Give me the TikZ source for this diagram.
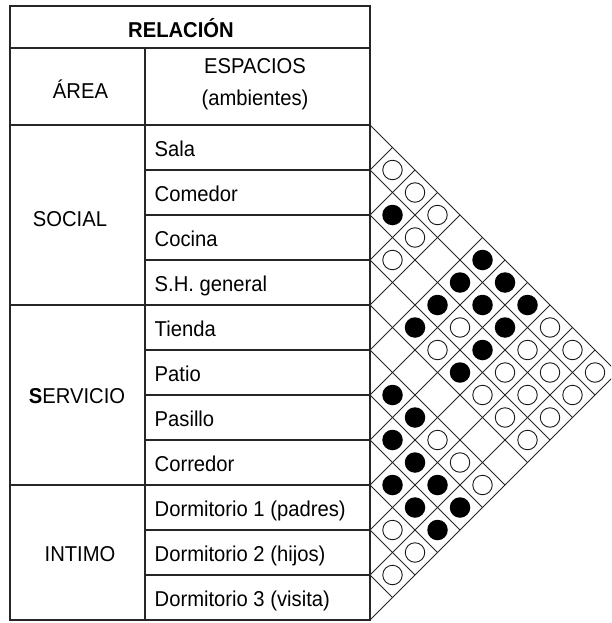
\documentclass[tikz,border=0pt]{standalone}
\usepackage{fontspec}
\setmainfont{Liberation Sans}[FakeStretch=0.94]
\begin{document}
\begin{tikzpicture}[x=1pt,y=-1pt,
  tbl/.style={line width=1.2pt, draw=black!85},
  gridline/.style={line width=0.8pt, draw=black!85},
  lbl/.style={inner sep=0pt, anchor=base west},
  ctr/.style={inner sep=0pt, anchor=base},
  opendot/.style={circle, draw=black!90, line width=0.9pt, minimum size=19.5pt, inner sep=0pt},
  fulldot/.style={circle, fill=black, minimum size=20.5pt, inner sep=0pt},
  every node/.append style={font=\fontsize{21.5}{24}\selectfont}]
\useasboundingbox (0,0) rectangle (611,623);
\clip (0,0) rectangle (611,623);
\fill[white] (0,0) rectangle (611,623);

% diamond grid
\foreach \k in {0,...,11} {
  \pgfmathsetmacro\yk{125+45*\k}
  \draw[gridline] (370,\yk) -- ++({(620-\yk)/2},{(620-\yk)/2});
  \draw[gridline] (370,\yk) -- ++({(\yk-125)/2},{-(\yk-125)/2});
}

% table
\draw[tbl] (10,6) rectangle (370,620);
\draw[tbl] (10,48) -- (370,48);
\draw[tbl] (10,125) -- (370,125);
\draw[tbl] (145,48) -- (145,620);
\foreach \y in {170,215,260,350,395,440,530,575} \draw[tbl] (145,\y) -- (370,\y);
\foreach \y in {305,485} \draw[tbl] (10,\y) -- (370,\y);

% header texts
\node[ctr] (rel) at (181,38) {\textbf{RELACIÓN}};
\node[ctr] (area) at (80.5,99) {ÁREA};
\node[ctr] (esp) at (255,73.5) {ESPACIOS};
\node[ctr] (amb) at (255,106) {(ambientes)};
\node[ctr] (social) at (70,226.5) {SOCIAL};
\node[ctr] (servicio) at (77,403) {\textbf{S}ERVICIO};
\node[ctr] (intimo) at (80,561.5) {INTIMO};

% space names
\foreach \n [count=\k from 0] in {Sala,Comedor,Cocina,S.H. general,Tienda,Patio,Pasillo,Corredor,Dormitorio 1 (padres),Dormitorio 2 (hijos),Dormitorio 3 (visita)}
  \node[lbl] (r\k) at (154.5,{156+45*\k}) {\n};

% relations
\foreach \i/\j in {0/1,0/2,0/3,1/3,2/3,2/6,0/8,3/6,1/8,0/9,2/8,1/9,0/10,3/8,2/9,1/10,3/9,2/10,5/8,3/10,5/9,5/10,8/9,8/10,9/10}
  \node[opendot] (o\i-\j) at ({370+22.5*(\j-\i)},{147.5+22.5*(\i+\j)}) {};
\foreach \i/\j in {1/2,0/5,1/5,0/6,2/5,1/6,0/7,3/5,1/7,2/7,3/7,5/6,5/7,6/7,6/8,7/8,6/9,7/9,6/10,7/10}
  \node[fulldot] (f\i-\j) at ({370+22.5*(\j-\i)},{147.5+22.5*(\i+\j)}) {};
\end{tikzpicture}
\end{document}
